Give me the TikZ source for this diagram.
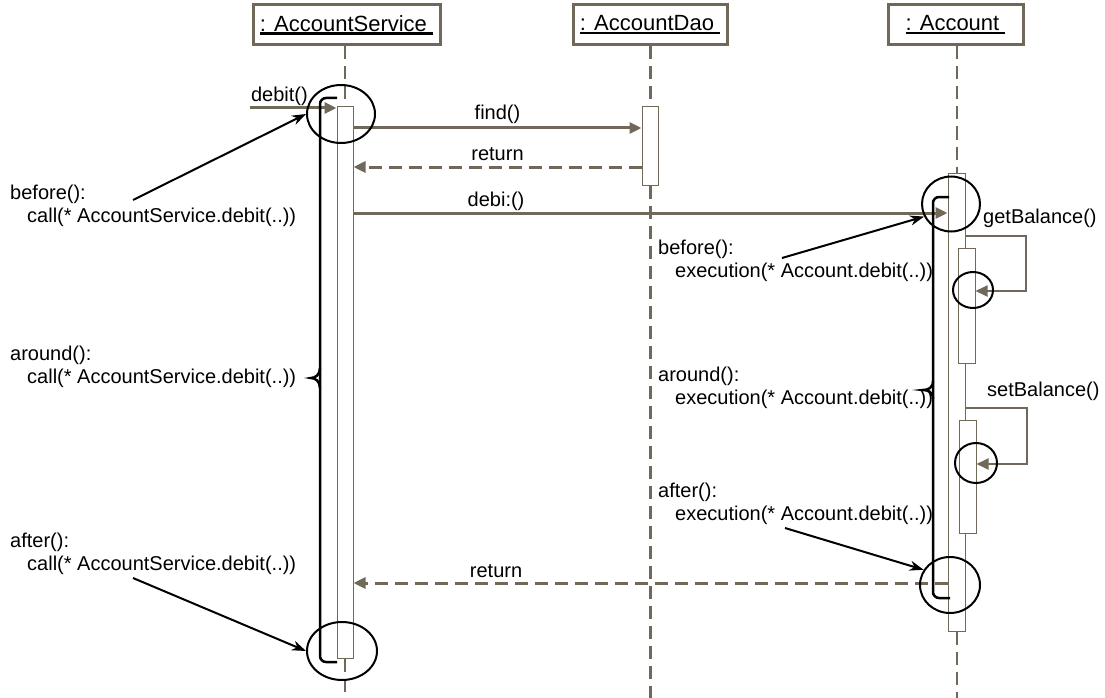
\documentclass[tikz,border=0pt]{standalone}
\usepackage{fontspec}
\setmainfont{Liberation Sans}
\usetikzlibrary{arrows.meta,shapes.geometric,fit}

\definecolor{umber}{RGB}{112,104,88}

\newcommand{\objname}[1]{%
  \setbox0\hbox{#1\ }\rlap{\rule[-3.5pt]{\wd0}{2.5pt}}\box0}

\tikzset{
  headbox/.style={draw=umber, line width=3pt, fill=white, minimum height=40pt,
    inner sep=0pt, font=\fontsize{22}{26}\selectfont},
  lifeline/.style={draw=umber, line width=2pt, dash pattern=on 13pt off 7pt},
  actbar/.style={draw=umber, line width=1pt, fill=white, inner sep=0pt},
  msg/.style={draw=umber, line width=3pt, -{Triangle[length=12pt,width=11pt]}},
  retmsg/.style={msg, dash pattern=on 13pt off 7pt},
  selfmsg/.style={msg, line width=2pt},
  advbar/.style={draw=black, line width=2.5pt},
  joinpt/.style={ellipse, draw=black, line width=2pt, inner sep=0pt},
  advice/.style={draw=black, line width=2pt, -{Stealth[length=14pt,width=10pt]}},
  lbl/.style={font=\fontsize{20}{23.5}\selectfont, inner sep=1pt},
  note/.style={lbl, align=left, anchor=west, inner sep=0pt},
}

\begin{document}
\begin{tikzpicture}[x=1pt,y=-1pt]
  \useasboundingbox (0,0) rectangle (1105,698);

  % Objects
  \node[headbox, minimum width=187pt] (svc) at (346.5,25) {\objname{: AccountService}};
  \node[headbox, minimum width=154pt] (dao) at (650,25) {\objname{: AccountDao}};
  \node[headbox, minimum width=135pt] (acc) at (955.5,25) {\objname{: Account}};
  \coordinate (floor) at (0,698);

  % Activations
  \node[actbar, fit={(337,107) (353,658)}] (svcbar) {};
  \node[actbar, fit={(642,107) (658,185)}] (daobar) {};
  \node[actbar, fit={(948,173) (965,631)}] (accbar) {};
  \node[actbar, fit={(958,248) (975,363)}] (getbar) {};
  \node[actbar, fit={(959,420) (976,533)}] (setbar) {};

  % Lifelines
  \draw[lifeline] (svc.south -| svcbar.north) -- (svcbar.north);
  \draw[lifeline] (svcbar.south) -- (svcbar.south |- floor);
  \draw[lifeline, line width=3pt] (dao.south -| daobar.north) -- (daobar.north);
  \draw[lifeline, line width=3pt] (daobar.south) -- (daobar.south |- floor);
  \draw[lifeline] (acc.south -| accbar.north) -- (accbar.north);
  \draw[lifeline] (accbar.south) -- (accbar.south |- floor);

  % Messages
  \coordinate (caller) at (250,108);
  \coordinate (r-find) at (0,128);
  \coordinate (r-ret1) at (0,167);
  \coordinate (r-debi) at (0,213);
  \coordinate (r-get) at (0,236);
  \coordinate (r-getin) at (0,291);
  \coordinate (r-set) at (0,408);
  \coordinate (r-setin) at (0,464);
  \coordinate (r-ret2) at (0,583);

  \draw[msg] (caller) -- node[lbl, above, pos=.34] (l-debit) {debit()} (caller -| svcbar.west);
  \draw[msg] (svcbar.east |- r-find) -- node[lbl, above, yshift=2pt] (l-find) {find()} (daobar.west |- r-find);
  \draw[retmsg] (daobar.west |- r-ret1) -- node[lbl, above, yshift=4pt] (l-ret1) {return} (svcbar.east |- r-ret1);
  \draw[msg] (svcbar.east |- r-debi) -- node[lbl, above, pos=.24] (l-debi) {debi:()} (accbar.west |- r-debi);
  \draw[selfmsg] (accbar.east |- r-get) -- ++(60,0) |- (getbar.east |- r-getin);
  \node[lbl, anchor=west] (l-get) at (982,218) {getBalance()};
  \draw[selfmsg] (accbar.east |- r-set) -- ++(61,0) |- (setbar.east |- r-setin);
  \node[lbl, anchor=west] (l-set) at (986,391) {setBalance()};
  \draw[retmsg] (accbar.west |- r-ret2) -- node[lbl, above, pos=.76, yshift=3pt] (l-ret2) {return} (svcbar.east |- r-ret2);

  % Advice brackets
  \draw[advbar, rounded corners=6pt] (337,98) -| (320,662) -- (337,662);
  \draw[advbar] (320,368) .. controls (320,375) and (315,378) .. (311,378)
    .. controls (315,378) and (320,381) .. (320,388);
  \draw[advbar, rounded corners=6pt] (949,197) -| (933,598) -- (950,598);
  \draw[advbar] (933,381) .. controls (933,388) and (928,390) .. (923,390)
    .. controls (928,390) and (933,392) .. (933,399);

  % Join points
  \node[joinpt, minimum width=68pt, minimum height=58pt] (jp-svc-in) at (341,114) {};
  \node[joinpt, minimum width=70pt, minimum height=58pt] (jp-svc-out) at (342,651) {};
  \node[joinpt, minimum width=58pt, minimum height=55pt] (jp-acc-in) at (951,204) {};
  \node[joinpt, minimum width=60pt, minimum height=56pt] (jp-acc-out) at (950,585) {};
  \node[joinpt, minimum width=40pt, minimum height=36pt] (jp-get) at (973,290) {};
  \node[joinpt, minimum width=42pt, minimum height=40pt] (jp-set) at (976,463) {};

  % Pointcuts
  \node[note] (n-before-l) at (10,206) {before():\\\hspace*{17pt}call(* AccountService.debit(..))};
  \node[note] (n-around-l) at (10,367) {around():\\\hspace*{17pt}call(* AccountService.debit(..))};
  \node[note] (n-after-l) at (10,554) {after():\\\hspace*{17pt}call(* AccountService.debit(..))};
  \node[note] (n-before-r) at (658,261) {before():\\\hspace*{17pt}execution(* Account.debit(..))};
  \node[note] (n-around-r) at (658,388) {around():\\\hspace*{17pt}execution(* Account.debit(..))};
  \node[note] (n-after-r) at (658,504) {after():\\\hspace*{17pt}execution(* Account.debit(..))};

  \coordinate (t-before-l) at (133,200);
  \coordinate (t-after-l) at (133,578);
  \coordinate (t-before-r) at (782,258);
  \coordinate (t-after-r) at (785,528);
  \draw[advice] (t-before-l) -- (jp-svc-in.west);
  \draw[advice] (t-after-l) -- (jp-svc-out.west);
  \draw[advice] (t-before-r) -- (jp-acc-in.205);
  \draw[advice] (t-after-r) -- (jp-acc-out.150);
\end{tikzpicture}
\end{document}
